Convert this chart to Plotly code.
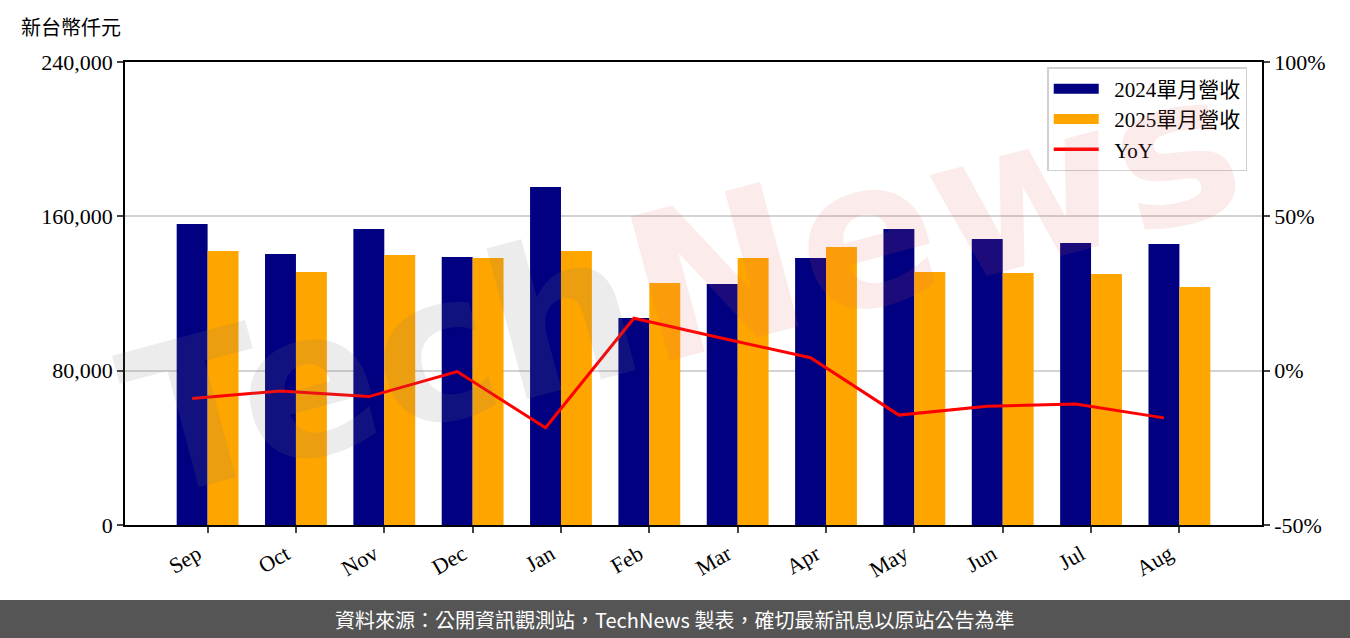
import plotly.graph_objects as go
import numpy as np

months = ["Sep", "Oct", "Nov", "Dec", "Jan", "Feb", "Mar", "Apr", "May", "Jun", "Jul", "Aug"]
rev_2024 = [156000, 140500, 153400, 138900, 175200, 107300, 124900, 138400, 153400, 148300, 146200, 145700]
rev_2025 = [142000, 131100, 140000, 138400, 142000, 125400, 138400, 144100, 131100, 130600, 130100, 123400]
yoy = [-9.0, -6.6, -8.4, -0.3, -18.5, 17.0, 10.5, 4.2, -14.4, -11.5, -10.8, -15.3]

left_ticks = [0, 80000, 160000, 240000]
right_ticks = [-50, 0, 50, 100]
right_labels = ["-50%", "0%", "50%", "100%"]

serif = "Liberation Serif, Noto Sans CJK TC, serif"
cjk = "Noto Sans CJK TC, sans-serif"

idx = np.arange(len(months))
w = 0.35
navy = "#000080"
orange = "#FFA500"
pad = "\u00a0\u00a0"

fig = go.Figure()
fig.add_trace(go.Bar(x=idx, y=rev_2024, width=w, offset=-w, name="2024單月營收",
                     marker=dict(color=navy, line=dict(width=0)), showlegend=False))
fig.add_trace(go.Bar(x=idx, y=rev_2025, width=w, offset=0, name="2025單月營收",
                     marker=dict(color=orange, line=dict(width=0)), showlegend=False))
fig.add_trace(go.Scatter(x=idx - w / 2, y=yoy, name="YoY", mode="lines",
                         line=dict(color="#FF0000", width=3), yaxis="y2", showlegend=False))
# legend entries (wide patches like the reference)
fig.add_trace(go.Scatter(x=[None], y=[None], mode="lines", name=pad + "2024單月營收",
                         line=dict(color=navy, width=16)))
fig.add_trace(go.Scatter(x=[None], y=[None], mode="lines", name=pad + "2025單月營收",
                         line=dict(color=orange, width=16)))
fig.add_trace(go.Scatter(x=[None], y=[None], mode="lines", name=pad + "YoY",
                         line=dict(color="#FF0000", width=3.5)))

fig.update_layout(
    width=1350, height=638,
    margin=dict(l=125, r=88, t=62, b=113),
    paper_bgcolor="white", plot_bgcolor="white",
    font=dict(family=serif, size=22, color="black"),
    showlegend=True,
    legend=dict(x=0.987, y=0.989, xanchor="right", yanchor="top",
                bgcolor="white", bordercolor="#d0d0d0", borderwidth=1.5,
                font=dict(family=serif, size=21), traceorder="normal",
                itemwidth=45, tracegroupgap=0),
    xaxis=dict(range=[-0.935, 11.935], tickvals=list(idx), ticktext=months,
               tickangle=-30, ticks="outside", ticklen=6, tickwidth=1.5,
               ticklabelshift=-10,
               showline=True, linecolor="black", linewidth=1.8, mirror=True,
               showgrid=False, zeroline=False, tickfont=dict(size=22)),
    yaxis=dict(range=[0, 240000], tickvals=left_ticks, tickformat=",",
               ticks="outside", ticklen=6, tickwidth=1.5,
               showline=True, linecolor="black", linewidth=1.8,
               showgrid=True, gridcolor="#d3d3d3", gridwidth=1.5, zeroline=False),
    yaxis2=dict(range=[-50, 100], tickvals=right_ticks, ticktext=right_labels,
                overlaying="y", side="right", ticks="outside", ticklen=6, tickwidth=1.5,
                showline=True, linecolor="black", linewidth=1.8,
                showgrid=False, zeroline=False),
)

# Footer band
fig.add_shape(type="rect", xref="paper", yref="paper",
              x0=-0.2, x1=1.2, y0=-0.4, y1=-0.162,
              fillcolor="#555555", line=dict(width=0), layer="above")
fig.add_annotation(xref="paper", yref="paper", x=0.483, y=-0.2035,
                   text="資料來源：公開資訊觀測站，TechNews 製表，確切最新訊息以原站公告為準",
                   showarrow=False, font=dict(family=cjk, size=20, color="white"),
                   xanchor="center", yanchor="middle")

# Unit label
fig.add_annotation(xref="paper", yref="paper", x=-0.093, y=1.076,
                   text="新台幣仟元", showarrow=False,
                   font=dict(family=cjk, size=20, color="black"),
                   xanchor="left", yanchor="middle")

# Watermark
fig.add_annotation(xref="paper", yref="paper", x=0.49, y=0.52,
                   text="<span style='color:rgba(120,120,120,0.14)'>Tech</span>"
                        "<span style='color:rgba(220,90,90,0.12)'>News</span>",
                   showarrow=False, textangle=-15,
                   font=dict(family="DejaVu Sans", size=205, weight="bold"),
                   xanchor="center", yanchor="middle")

fig.write_html("out.html", config={"displayModeBar": False},
               post_script="document.body.style.margin='0';document.body.style.overflow='hidden';")
